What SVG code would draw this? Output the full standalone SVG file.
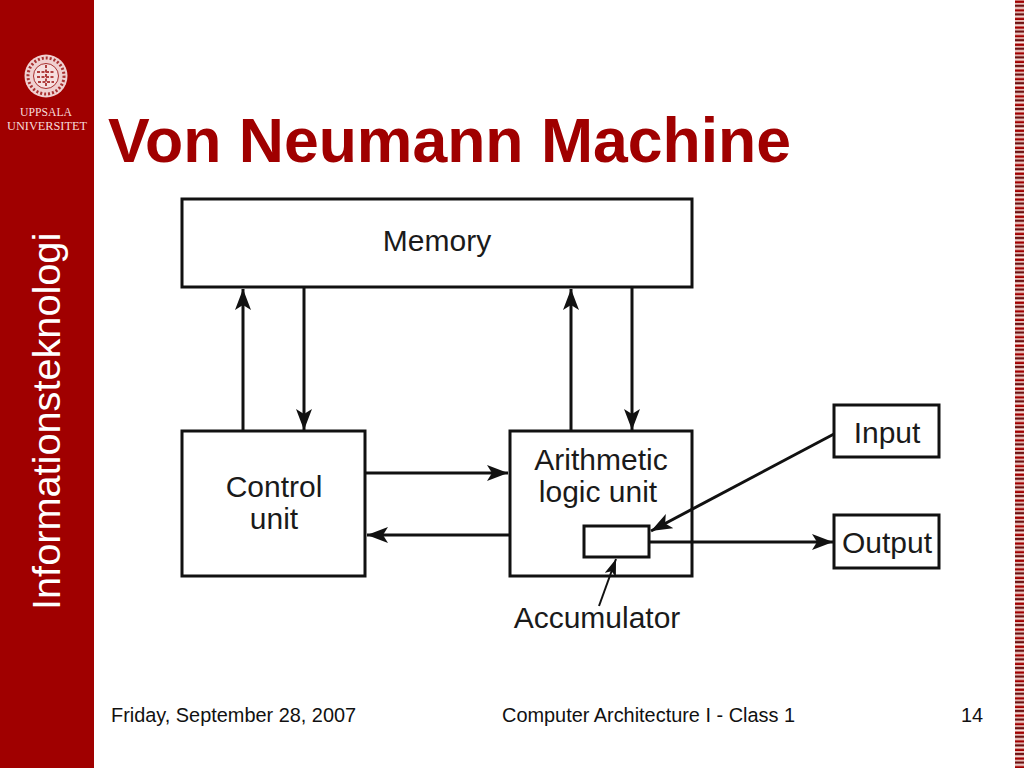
<svg xmlns="http://www.w3.org/2000/svg" width="1024" height="768" viewBox="0 0 1024 768">
<style>
.box{fill:#fff;stroke:#111;stroke-width:3}
.ln{fill:none;stroke:#111;stroke-width:3}
.d{font-family:"Liberation Sans",Arial,sans-serif;font-size:30px;fill:#1a1a1a;text-anchor:middle}
.f{font-family:"Liberation Sans",Arial,sans-serif;font-size:19.9px;fill:#111}
.u{font-family:"Liberation Serif","Times New Roman",serif;font-size:13px;fill:#f6dcdc;text-anchor:middle}
</style>
<defs>
<marker id="a" markerUnits="userSpaceOnUse" markerWidth="22" markerHeight="16" refX="21" refY="8" orient="auto"><path d="M0 0L21 8L0 16L5 8Z" fill="#111"/></marker>
<marker id="s" markerUnits="userSpaceOnUse" markerWidth="18" markerHeight="12" refX="17" refY="6" orient="auto"><path d="M0 0L17 6L0 12L4 6Z" fill="#111"/></marker>
<pattern id="st" width="9" height="8.6" patternUnits="userSpaceOnUse"><rect width="9" height="8.6" fill="#fbe6e0"/><rect y="0.500" width="9" height="2.500" fill="#a00000"/><rect y="4.500" width="9" height="2.500" fill="#6e1010"/></pattern>
</defs>
<rect width="1024" height="768" fill="#fff"/>
<rect id="sidebar" width="94" height="768" fill="#a00000"/>
<rect x="1015" width="9" height="768" fill="url(#st)"/>
<g id="logo">
<circle cx="46" cy="76" r="21.5" fill="#f0d0d0"/>
<circle cx="46" cy="76" r="18" fill="none" stroke="#a83030" stroke-width="3" stroke-dasharray="2 2"/>
<circle cx="46" cy="76" r="12.500" fill="#f6e0e0" stroke="#a83030" stroke-width="1"/>
<path d="M37 72H55M37 77H55M38 82H54M46 65V87" stroke="#b04040" stroke-width="2" stroke-dasharray="3 1.500" fill="none"/>
<text class="u" x="46" y="116" textLength="52" lengthAdjust="spacingAndGlyphs">UPPSALA</text>
<text class="u" x="47" y="130" textLength="80" lengthAdjust="spacingAndGlyphs">UNIVERSITET</text>
</g>
<text id="sideTitle" transform="translate(60 610) rotate(-90)" font-family="'Liberation Sans',Arial,sans-serif" font-size="39.7" fill="#fff">Informationsteknologi</text>
<text id="title" x="108" y="162" font-family="'Liberation Sans',Arial,sans-serif" font-size="62.5" font-weight="bold" fill="#a00000">Von Neumann Machine</text>
<g id="memory"><rect class="box" x="182" y="199" width="510" height="88"/><text class="d" x="437" y="251">Memory</text></g>
<g id="control"><rect class="box" x="182" y="431" width="183" height="145"/><text class="d" x="274" y="497">Control</text><text class="d" x="274" y="529">unit</text></g>
<g id="alu"><rect class="box" x="510" y="431" width="182" height="145"/><text class="d" x="601" y="470">Arithmetic</text><text class="d" x="598" y="502">logic unit</text></g>
<g id="accumulator"><rect class="box" x="584" y="526" width="65" height="31"/></g>
<text id="accLabel" class="d" x="597" y="628">Accumulator</text>
<g id="input"><rect class="box" x="834" y="405" width="105" height="52"/><text class="d" x="887" y="443">Input</text></g>
<g id="output"><rect class="box" x="834" y="515" width="105" height="53"/><text class="d" x="887" y="553">Output</text></g>
<g id="connectors">
<path class="ln" marker-end="url(#a)" d="M243 430V289"/>
<path class="ln" marker-end="url(#a)" d="M304 288V430"/>
<path class="ln" marker-end="url(#a)" d="M571 430V289"/>
<path class="ln" marker-end="url(#a)" d="M632 288V430"/>
<path class="ln" marker-end="url(#a)" d="M366 473H508"/>
<path class="ln" marker-end="url(#a)" d="M509 535H367"/>
<path class="ln" marker-end="url(#a)" d="M834 434L651 531"/>
<path class="ln" marker-end="url(#a)" d="M650 542H833"/>
<path fill="none" stroke="#111" stroke-width="2" marker-end="url(#s)" d="M599 606L616 559"/>
</g>
<g id="footer">
<text class="f" x="111" y="722">Friday, September 28, 2007</text>
<text class="f" x="648.500" y="722" text-anchor="middle">Computer Architecture I - Class 1</text>
<text class="f" x="983" y="722" text-anchor="end">14</text>
</g>
</svg>
